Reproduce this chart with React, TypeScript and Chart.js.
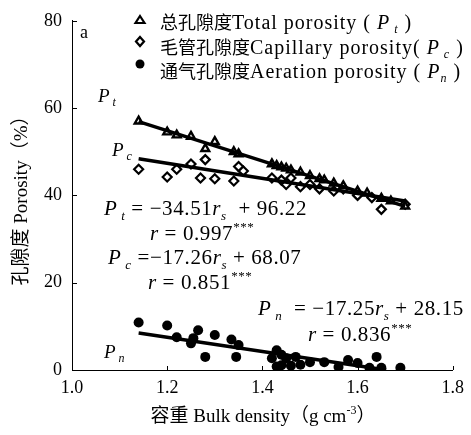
import { useEffect, useRef } from "react";
import { Chart, registerables } from "chart.js";
Chart.register(...registerables);

// ---- data ----
const totalX = [1.14, 1.2, 1.22, 1.25, 1.28, 1.3, 1.34, 1.35, 1.42, 1.43, 1.44, 1.45, 1.46, 1.48, 1.5, 1.52, 1.53, 1.55, 1.57, 1.6, 1.62, 1.65, 1.67, 1.7];
const totalY = [57.0, 54.5, 53.8, 53.5, 50.7, 52.3, 50.0, 49.5, 47.2, 46.8, 46.5, 46.2, 45.8, 45.3, 44.5, 43.8, 43.5, 42.8, 42.2, 41.0, 40.5, 39.3, 38.7, 37.5];

const capX = [1.14, 1.2, 1.22, 1.25, 1.27, 1.28, 1.3, 1.34, 1.35, 1.36, 1.42, 1.44, 1.45, 1.46, 1.48, 1.5, 1.52, 1.55, 1.57, 1.6, 1.63, 1.65, 1.7];
const capY = [46.0, 44.2, 46.0, 47.2, 44.0, 48.2, 43.8, 43.3, 46.6, 45.6, 44.0, 43.5, 42.5, 44.0, 42.0, 42.5, 41.5, 41.0, 41.5, 40.0, 39.5, 36.8, 38.0];

const aerX = [1.14, 1.2, 1.22, 1.25, 1.265, 1.255, 1.28, 1.3, 1.335, 1.35, 1.345, 1.43, 1.42, 1.44, 1.44, 1.45, 1.46, 1.43, 1.47, 1.48, 1.5, 1.53, 1.56, 1.58, 1.6, 1.625, 1.64, 1.65, 1.69];
const aerY = [10.9, 10.2, 7.5, 6.1, 9.1, 7.3, 3.0, 8.0, 7.0, 5.7, 3.0, 4.5, 2.7, 1.1, 3.5, 2.7, 1.0, 0.8, 3.0, 1.2, 1.8, 1.8, 0.7, 2.3, 1.6, 0.5, 3.0, 0.5, 0.5];

const fitTotalX = [1.14, 1.7];
const fitTotalY = [56.9, 37.5];
const fitCapX = [1.14, 1.7];
const fitCapY = [48.4, 38.7];
const fitAerX = [1.14, 1.66];
const fitAerY = [8.5, 0.0];

const xTicks = [1.0, 1.2, 1.4, 1.6, 1.8];
const yTicks = [0, 20, 40, 60, 80];

const SERIF = '"Liberation Serif", "Noto Sans CJK SC", serif';

type Seg = { t: string; i?: boolean; sub?: boolean; sup?: boolean; z?: number; ls?: number };

function drawRich(ctx: CanvasRenderingContext2D, x: number, y: number, segs: Seg[], size: number, align: "left" | "center" = "left", ls = 0) {
  const sz = (s: Seg) => {
    const base = s.z ?? size;
    return s.sub || s.sup ? Math.round(base * 0.62) : base;
  };
  const fontFor = (s: Seg) => `${s.i ? "italic " : ""}${sz(s)}px ${SERIF}`;
  const c: any = ctx;
  const setLs = (s: Seg) => { c.letterSpacing = `${s.ls ?? ls}px`; };
  let w = 0;
  for (const s of segs) {
    ctx.font = fontFor(s);
    setLs(s);
    w += ctx.measureText(s.t).width;
  }
  let cx = align === "center" ? x - w / 2 : x;
  ctx.textAlign = "left";
  ctx.textBaseline = "alphabetic";
  for (const s of segs) {
    ctx.font = fontFor(s);
    setLs(s);
    const base = s.z ?? size;
    const dy = s.sub ? base * 0.22 : s.sup ? -base * 0.42 : 0;
    ctx.fillText(s.t, cx, y + dy);
    cx += ctx.measureText(s.t).width;
  }
  c.letterSpacing = "0px";
}

const pts = (xs: number[], ys: number[]) => xs.map((x, i) => ({ x, y: ys[i] }));

const annotate = {
  id: "annotate",
  afterDraw(chart: any) {
    const ctx: CanvasRenderingContext2D = chart.ctx;
    const xs = chart.scales.x;
    const ys = chart.scales.y;
    ctx.save();
    ctx.fillStyle = "#000";
    ctx.strokeStyle = "#000";
    ctx.lineWidth = 1;
    // inside ticks
    const left = xs.left;
    const bottom = ys.bottom;
    ctx.beginPath();
    for (const v of yTicks) {
      const py = Math.round(ys.getPixelForValue(v)) + 0.5;
      ctx.moveTo(left, py);
      ctx.lineTo(left + 5, py);
    }
    for (const v of xTicks) {
      const px = Math.round(xs.getPixelForValue(v)) + 0.5;
      ctx.moveTo(px, bottom);
      ctx.lineTo(px, bottom - 4);
    }
    ctx.stroke();

    // legend
    const lx = 140;
    const legend: { y: number; segs: Seg[] }[] = [
      { y: 29, segs: [{ t: "总孔隙度", z: 18, ls: 0 }, { t: "Total porosity (" }, { t: " P", i: true }, { t: " t", i: true, sub: true }, { t: " )" }] },
      { y: 54, segs: [{ t: "毛管孔隙度", z: 18, ls: 0 }, { t: "Capillary porosity(" }, { t: " P", i: true }, { t: " c", i: true, sub: true }, { t: " )" }] },
      { y: 78, segs: [{ t: "通气孔隙度", z: 18, ls: 0 }, { t: "Aeration porosity (" }, { t: " P", i: true }, { t: "n", i: true, sub: true }, { t: " )" }] },
    ];
    legend.forEach((l) => drawRich(ctx, 160, l.y, l.segs, 20, "left", 1.0));
    // legend markers
    ctx.lineWidth = 2.2;
    ctx.beginPath();
    ctx.moveTo(lx, 16);
    ctx.lineTo(lx + 4.5, 23);
    ctx.lineTo(lx - 4.5, 23);
    ctx.closePath();
    ctx.stroke();
    ctx.beginPath();
    ctx.moveTo(lx, 37);
    ctx.lineTo(lx + 4, 41.5);
    ctx.lineTo(lx, 46);
    ctx.lineTo(lx - 4, 41.5);
    ctx.closePath();
    ctx.stroke();
    ctx.beginPath();
    ctx.arc(lx, 64, 4.5, 0, Math.PI * 2);
    ctx.fill();

    // labels
    ctx.font = `18px ${SERIF}`;
    ctx.fillText("a", 80, 38);
    drawRich(ctx, 98, 102, [{ t: "P", i: true }, { t: " t", i: true, sub: true }], 19);
    drawRich(ctx, 112, 156, [{ t: "P", i: true }, { t: " c", i: true, sub: true }], 19);
    drawRich(ctx, 104, 358, [{ t: "P", i: true }, { t: " n", i: true, sub: true }], 19);

    // equations
    const E = 21;
    const L = 0.6;
    drawRich(ctx, 104, 215, [{ t: "P", i: true }, { t: " t", i: true, sub: true }, { t: " = −34.51" }, { t: "r", i: true }, { t: "s", i: true, sub: true }, { t: "  + 96.22" }], E, "left", L);
    drawRich(ctx, 150, 240, [{ t: "r", i: true }, { t: " = 0.997" }, { t: "***", sup: true }], E, "left", L);
    drawRich(ctx, 108, 264, [{ t: "P", i: true }, { t: " c", i: true, sub: true }, { t: " =−17.26" }, { t: "r", i: true }, { t: "s", i: true, sub: true }, { t: " + 68.07" }], E, "left", L);
    drawRich(ctx, 148, 289, [{ t: "r", i: true }, { t: " = 0.851" }, { t: "***", sup: true }], E, "left", L);
    drawRich(ctx, 258, 315, [{ t: "P", i: true }, { t: " n", i: true, sub: true }, { t: "  = −17.25" }, { t: "r", i: true }, { t: "s", i: true, sub: true }, { t: " + 28.15" }], E, "left", L);
    drawRich(ctx, 308, 341, [{ t: "r", i: true }, { t: " = 0.836" }, { t: "***", sup: true }], E, "left", L);

    // axis titles
    drawRich(ctx, 263, 422, [{ t: "容重 Bulk density（g cm" }, { t: "-3", sup: true }, { t: "）" }], 19, "center");
    ctx.save();
    ctx.translate(27, 196);
    ctx.rotate(-Math.PI / 2);
    drawRich(ctx, 0, 0, [{ t: "孔隙度 Porosity（%）" }], 19, "center");
    ctx.restore();
    ctx.restore();
  },
};

export default function App() {
  const ref = useRef<HTMLCanvasElement | null>(null);
  useEffect(() => {
    document.body.style.margin = "0";
    const canvas = ref.current!;
    const chart = new Chart(canvas, {
      type: "scatter",
      data: {
        datasets: [
          { label: "fitT", data: pts(fitTotalX, fitTotalY), showLine: true, borderColor: "#000", borderWidth: 3.5, pointRadius: 0, order: 0 },
          { label: "fitC", data: pts(fitCapX, fitCapY), showLine: true, borderColor: "#000", borderWidth: 3.5, pointRadius: 0, order: 0 },
          { label: "fitA", data: pts(fitAerX, fitAerY), showLine: true, borderColor: "#000", borderWidth: 3.5, pointRadius: 0, order: 0 },
          { label: "Total", data: pts(totalX, totalY), pointStyle: "triangle", pointRadius: 4.5, borderWidth: 2.4, borderColor: "#000", backgroundColor: "#fff", order: 1 },
          { label: "Capillary", data: pts(capX, capY), pointStyle: "rectRot", pointRadius: 4.5, borderWidth: 2.2, borderColor: "#000", backgroundColor: "#fff", order: 1 },
          { label: "Aeration", data: pts(aerX, aerY), pointStyle: "circle", pointRadius: 5, borderWidth: 0, borderColor: "#000", backgroundColor: "#000", order: 1 },
        ],
      },
      options: {
        animation: false,
        responsive: false,
        devicePixelRatio: 1,
        layout: { padding: { top: 18, right: 14, left: 0, bottom: 0 } },
        plugins: { legend: { display: false }, tooltip: { enabled: false } },
        scales: {
          x: {
            type: "linear",
            min: 1.0,
            max: 1.8,
            afterFit: (s: any) => { s.height = 65; },
            afterBuildTicks: (s: any) => { s.ticks = xTicks.map((v) => ({ value: v })); },
            grid: { display: false, drawTicks: false },
            border: { display: true, color: "#000", width: 1 },
            ticks: { padding: 7, color: "#000", font: { family: SERIF, size: 18 }, callback: (v: any) => Number(v).toFixed(1) },
          },
          y: {
            type: "linear",
            min: 0,
            max: 80,
            afterFit: (s: any) => { s.width = 72; },
            afterBuildTicks: (s: any) => { s.ticks = yTicks.map((v) => ({ value: v })); },
            grid: { display: false, drawTicks: false },
            border: { display: true, color: "#000", width: 1 },
            ticks: { padding: 10, color: "#000", font: { family: SERIF, size: 18 } },
          },
        },
      },
      plugins: [annotate],
    });
    return () => chart.destroy();
  }, []);
  return (
    <div style={{ position: "absolute", left: 0, top: 0, width: 471, height: 435, background: "#fff" }}>
      <canvas ref={ref} width={471} height={435} style={{ display: "block", width: 471, height: 435 }} />
    </div>
  );
}
